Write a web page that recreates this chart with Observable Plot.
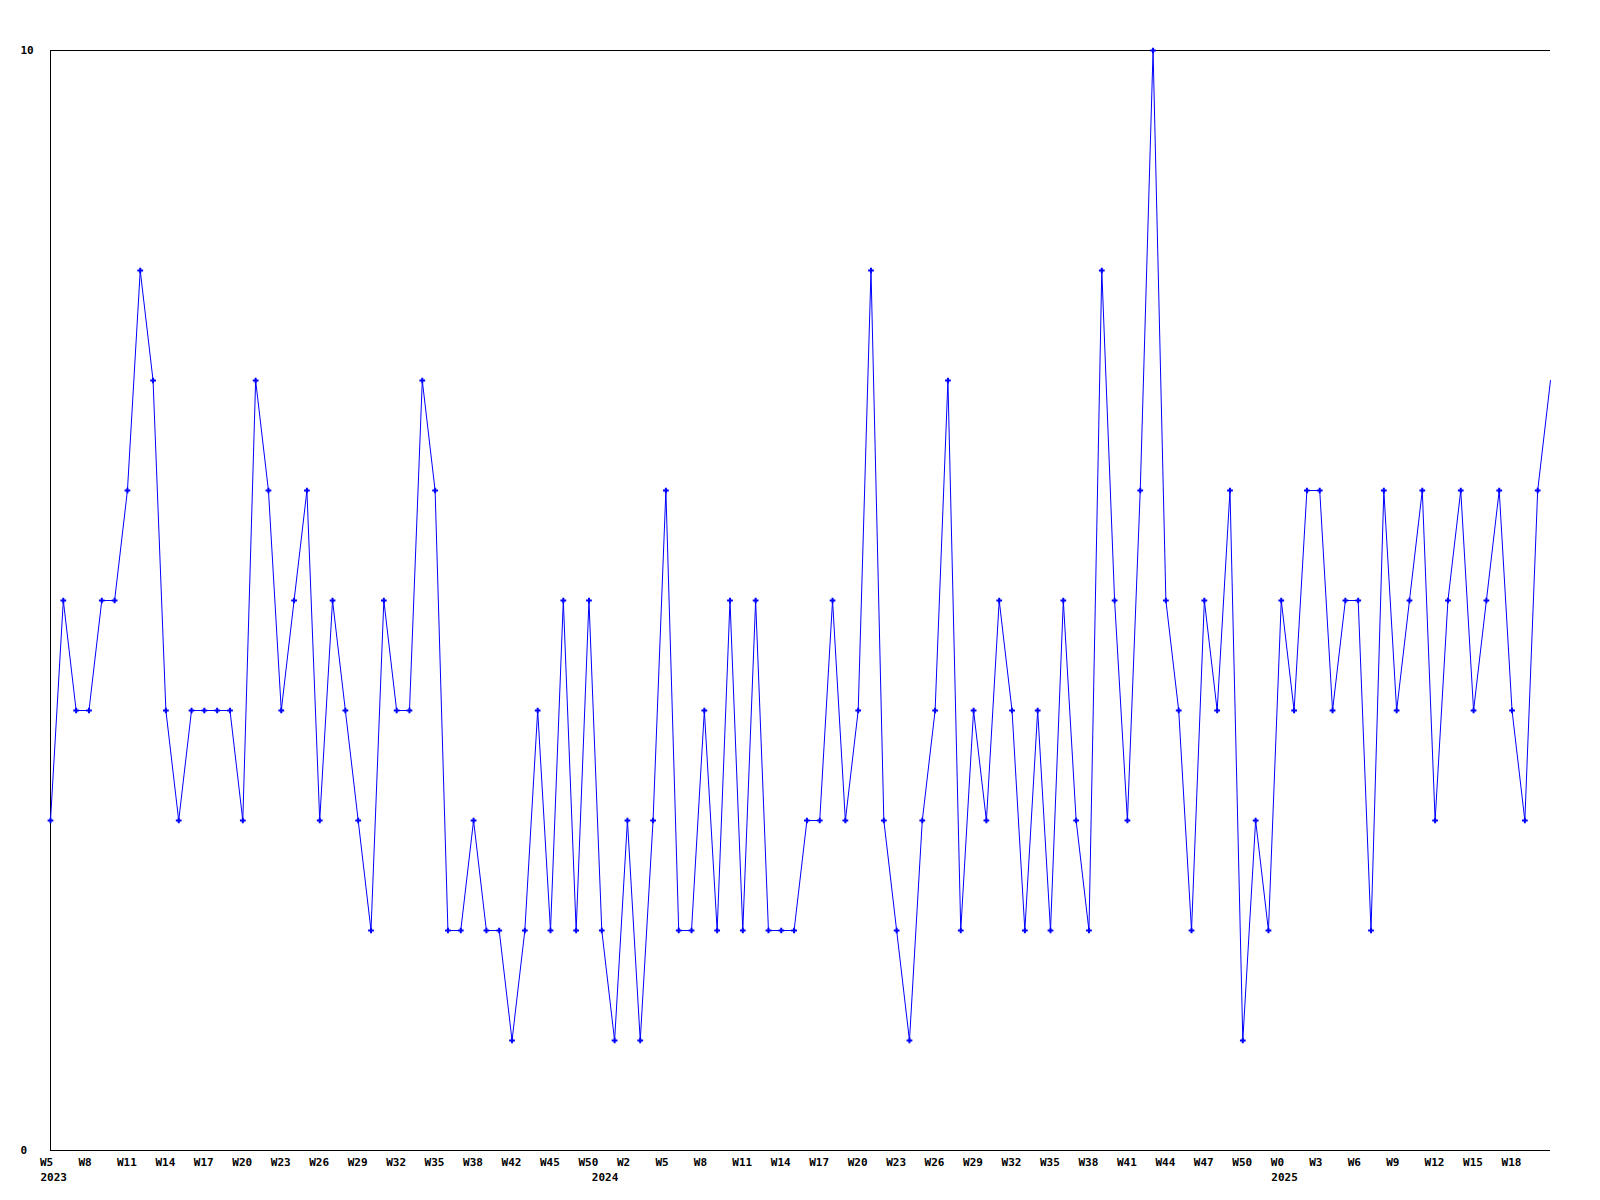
<!DOCTYPE html>
<html><head><meta charset="utf-8">
<script src="https://cdn.jsdelivr.net/npm/d3@7"></script>
<script src="https://cdn.jsdelivr.net/npm/@observablehq/plot@0.6"></script>
<style>html,body{margin:0;padding:0;background:#fff;}</style>
</head><body><div id="chart"></div>
<script>
// weekly values (ordinal points, 2023 W5 .. 2025 W21)
const values = [
  3,5,4,4,5,5,6,8,7,4, 3,4,4,4,4,3,7,6,4,5,
  6,3,5,4,3,2,5,4,4,7, 6,2,2,3,2,2,1,2,4,2,
  5,2,5,2,1,3,1,3,6,2, 2,4,2,5,2,5,2,2,2,3,
  3,5,3,4,8,3,2,1,3,4, 7,2,4,3,5,4,2,4,2,5,
  3,2,8,5,3,6,10,5,4,2, 5,4,6,1,3,2,5,4,6,6,
  4,5,5,2,6,4,5,6,3,5, 6,4,5,6,4,3,6,7
];
const tickIndex = [0,3,6,9,12,15,18,21,24,27,30,33,36,39,42,45,48,51,54,57,60,63,66,69,72,75,78,81,84,87,90,93,96,99,102,105,108,111,114];
const tickLabels = ["W5","W8","W11","W14","W17","W20","W23","W26","W29","W32","W35","W38","W42","W45","W50","W2","W5","W8","W11","W14","W17","W20","W23","W26","W29","W32","W35","W38","W41","W44","W47","W50","W0","W3","W6","W9","W12","W15","W18"];
const yearIndex = [0,43,96];
const yearLabels = ["2023","2024","2025"];
const yTicks = [0,10];

const data = values.map((v,i)=>({i, v}));

const chart = Plot.plot({
  width:1600, height:1200,
  marginLeft:50, marginRight:50, marginTop:50, marginBottom:50,
  style:{fontFamily:"'DejaVu Sans Mono', monospace", fontSize:"11px", fontWeight:"bold", background:"#fff", color:"#000"},
  x:{domain:[0, values.length-1], label:null},
  y:{domain:[0,10], label:null},
  marks:[
    Plot.ruleY([0,10], {stroke:"#000", strokeWidth:1}),
    Plot.ruleX([0], {stroke:"#000", strokeWidth:1}),
    Plot.lineY(data, {x:"i", y:"v", stroke:"#0000ff", strokeWidth:1, style:{shapeRendering:"crispEdges"}}),
    Plot.dot(data.slice(0,-1), {x:"i", y:"v", symbol:"plus", r:2, stroke:"#0000ff", strokeWidth:2}),
    Plot.axisX({ticks:tickIndex, tickFormat:d=>tickLabels[tickIndex.indexOf(d)], tickSize:0, tickPadding:8, textAnchor:"start", dx:-10.5, fill:"#000", label:null}),
    Plot.axisX({ticks:yearIndex, tickFormat:d=>yearLabels[yearIndex.indexOf(d)], tickSize:0, tickPadding:23, textAnchor:"start", dx:-10, fill:"#000", label:null}),
    Plot.axisY({ticks:yTicks, tickFormat:d=>String(d), tickSize:0, tickPadding:30, textAnchor:"start", fill:"#000", label:null})
  ]
});
document.getElementById("chart").appendChild(chart);
</script>
</body></html>
